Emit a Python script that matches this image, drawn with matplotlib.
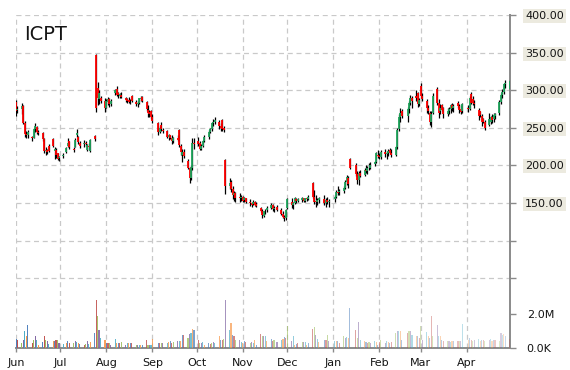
import matplotlib
matplotlib.use("Agg")
import matplotlib.pyplot as plt
import matplotlib.dates as mdates
import matplotlib.ticker as mticker
from matplotlib.colors import to_rgba
import numpy as np
import pandas as pd

# ---------------- data ----------------
title = "ICPT"
holidays = ["2017-07-04", "2017-09-04", "2017-11-23", "2017-12-25",
            "2018-01-01", "2018-01-15", "2018-02-19", "2018-03-30"]
dates = pd.bdate_range("2017-06-01", "2018-04-30")
dates = dates[~dates.isin(pd.to_datetime(holidays))]

opens = [284, 274, 275, 279, 257, 242, 240, 238, 237, 248, 251, 244, 243, 235, 219, 221, 226, 235, 219, 221, 216, 210,
         212, 218, 226, 232, 222, 224, 240, 238, 230, 228, 230, 221, 226, 219, 239, 347, 303, 288, 290, 285,
         277, 284, 288, 282, 296, 302, 296, 292, 294, 290, 288, 287, 285, 292, 284, 282, 283, 288, 291, 284, 274, 271, 272,
         264, 256, 245, 254, 247, 246, 238, 240, 237, 233, 236, 247, 226, 214, 218, 206, 197, 183, 196, 230,
         232, 230, 222, 226, 233, 238, 245, 248, 256, 258, 258, 252, 260, 250, 207, 172, 178, 168, 160, 163, 158, 156,
         158, 154, 156, 152, 150, 149, 152, 149, 144, 140, 133, 139, 141, 144, 147, 142, 145, 141, 136, 132, 130,
         143, 152, 148, 150, 155, 153, 154, 156, 153, 156, 155, 176, 158, 153, 151, 154, 155, 150, 154, 151,
         155, 158, 165, 164, 166, 170, 178, 183, 208, 200, 188, 180, 190, 187, 194, 192, 197, 197, 202, 204, 214,
         213, 211, 218, 215, 216, 221, 217, 214, 224, 248, 265, 272, 266, 275, 283, 290, 292, 296, 282,
         306, 292, 285, 276, 270, 258, 270, 302, 283, 272, 280, 276, 268, 273, 275, 280, 276, 283, 279, 275, 272,
         276, 275, 295, 288, 283, 274, 272, 266, 262, 258, 254, 258, 264, 262, 266, 270, 284, 294, 298, 308, 302]
highs = [287, 279, 283, 280, 259, 246, 247, 239, 250, 256, 252, 247, 244, 236, 225, 222, 228, 237, 225, 223, 217, 213,
         216, 224, 236, 233, 225, 236, 248, 239, 232, 234, 233, 228, 230, 235, 240, 348, 311, 300, 292, 289,
         288, 291, 290, 288, 301, 305, 298, 296, 297, 291, 290, 291, 288, 293, 287, 285, 290, 292, 292, 285, 280, 274, 274,
         268, 258, 252, 258, 250, 247, 242, 241, 240, 238, 240, 248, 229, 222, 222, 208, 198, 200, 236, 236,
         238, 233, 228, 234, 240, 247, 250, 258, 262, 264, 260, 256, 262, 252, 208, 183, 180, 172, 166, 165, 163, 160,
         159, 158, 157, 155, 152, 154, 153, 151, 145, 142, 140, 142, 146, 150, 149, 146, 148, 143, 139, 134, 142,
         157, 156, 152, 158, 157, 156, 158, 157, 157, 158, 160, 178, 167, 160, 156, 158, 160, 156, 158, 155,
         160, 167, 172, 168, 172, 180, 187, 186, 210, 203, 192, 192, 194, 196, 200, 199, 203, 204, 206, 218, 220,
         217, 220, 222, 219, 222, 223, 222, 226, 250, 268, 277, 275, 278, 285, 294, 292, 300, 298, 290,
         309, 296, 288, 280, 272, 272, 296, 304, 288, 282, 282, 278, 276, 278, 282, 283, 282, 285, 282, 280, 283,
         280, 292, 297, 292, 287, 276, 273, 268, 263, 260, 270, 266, 268, 270, 270, 287, 296, 302, 310, 314, 314]
lows = [266, 270, 268, 255, 238, 236, 237, 233, 236, 244, 242, 240, 233, 216, 214, 215, 218, 224, 209, 210, 207, 206,
        210, 217, 225, 222, 218, 224, 238, 229, 223, 225, 226, 219, 220, 218, 233, 271, 280, 282, 283, 271,
        276, 280, 278, 279, 293, 292, 290, 290, 289, 284, 283, 283, 282, 284, 279, 278, 282, 285, 284, 272, 265, 264, 262,
        256, 240, 243, 246, 243, 236, 234, 235, 229, 230, 232, 225, 214, 204, 210, 195, 176, 180, 194, 222,
        226, 220, 220, 225, 231, 235, 243, 246, 253, 255, 248, 246, 246, 244, 162, 168, 165, 155, 153, 152, 152, 153,
        152, 151, 150, 146, 145, 147, 146, 145, 138, 130, 131, 136, 138, 142, 140, 138, 139, 134, 130, 126, 128,
        142, 144, 142, 149, 150, 151, 152, 151, 152, 153, 154, 156, 149, 145, 148, 150, 147, 145, 149, 145,
        152, 156, 160, 161, 163, 168, 174, 170, 195, 186, 175, 174, 184, 186, 190, 189, 194, 195, 199, 203, 210,
        208, 209, 211, 209, 213, 215, 211, 212, 222, 246, 258, 263, 258, 270, 280, 276, 285, 278, 279,
        290, 285, 270, 268, 254, 251, 268, 280, 263, 268, 272, 263, 266, 268, 270, 272, 271, 276, 270, 269, 270,
        271, 274, 281, 280, 276, 260, 265, 253, 256, 247, 253, 255, 256, 258, 262, 267, 282, 290, 295, 303, 300]
closes = [273, 275, 279, 257, 242, 240, 244, 236, 248, 252, 244, 243, 235, 219, 221, 218, 219, 226, 222, 214, 209, 211,
          214, 223, 230, 224, 221, 234, 243, 231, 226, 230, 228, 227, 224, 234, 235, 276, 290, 296, 286, 276,
          286, 288, 281, 285, 300, 294, 293, 295, 291, 287, 285, 284, 286, 285, 282, 283, 289, 290, 285, 275, 270, 268, 264,
          259, 244, 250, 248, 246, 238, 240, 237, 232, 236, 234, 227, 218, 218, 213, 197, 183, 196, 230, 228,
          229, 222, 226, 233, 238, 244, 248, 256, 258, 260, 252, 250, 248, 247, 172, 176, 168, 160, 163, 156, 156, 158,
          153, 156, 152, 150, 148, 152, 148, 146, 140, 134, 139, 140, 143, 147, 142, 144, 141, 136, 132, 130, 141,
          155, 148, 150, 156, 153, 155, 156, 153, 156, 155, 158, 158, 152, 151, 154, 156, 150, 154, 151, 153,
          158, 165, 163, 166, 170, 178, 184, 175, 197, 188, 180, 190, 186, 194, 192, 197, 196, 201, 204, 216, 213,
          211, 218, 215, 216, 219, 217, 214, 224, 247, 265, 270, 266, 275, 283, 290, 285, 290, 282, 287,
          292, 288, 276, 272, 258, 268, 292, 283, 270, 276, 274, 268, 273, 275, 280, 276, 279, 279, 274, 271, 281,
          275, 290, 283, 283, 281, 266, 267, 258, 258, 250, 262, 264, 260, 267, 268, 284, 294, 298, 308, 310, 312]
volumes_m = [0.55, 0.49, 0.29, 0.49, 0.98, 0.69, 1.37, 0.30, 0.49, 0.69, 0.49, 0.20, 0.33, 0.69, 0.49, 0.43, 0.25, 0.43, 0.43, 0.49, 0.49, 0.30,
             0.25, 0.30, 0.43, 0.30, 0.30, 0.43, 0.35, 0.30, 0.25, 0.20, 0.25, 0.40, 0.25, 0.35, 0.88, 2.85, 1.86, 1.04, 0.59, 0.49,
             0.30, 0.30, 0.30, 0.20, 0.53, 0.30, 0.30, 0.30, 0.33, 0.15, 0.30, 0.30, 0.30, 0.30, 0.20, 0.20, 0.20, 0.20, 0.20, 0.49, 0.20, 0.20, 0.20,
             0.55, 0.30, 0.30, 0.30, 0.30, 0.30, 0.35, 0.40, 0.30, 0.35, 0.40, 0.40, 0.40, 0.78, 0.78, 0.60, 0.80, 0.90, 1.10, 1.08,
             0.49, 0.30, 0.30, 0.35, 0.20, 0.30, 0.25, 0.30, 0.35, 0.30, 0.73, 0.49, 0.50, 0.55, 2.84, 1.04, 1.47, 0.78, 0.69, 0.50, 0.45, 0.35,
             0.30, 0.40, 0.35, 0.30, 0.35, 0.30, 0.45, 0.20, 0.84, 0.73, 0.69, 0.69, 0.40, 0.53, 0.40, 0.45, 0.35, 0.49, 0.55, 0.65, 0.60,
             1.27, 0.43, 0.69, 0.20, 0.25, 0.30, 0.33, 0.33, 0.33, 0.20, 0.30, 1.12, 1.22, 0.78, 0.53, 0.33, 0.49, 0.49, 0.78, 0.40,
             0.39, 0.39, 0.39, 0.30, 0.69, 0.59, 0.65, 0.60, 2.35, 1.08, 0.59, 1.51, 0.49, 0.40, 0.35, 0.30, 0.35, 0.30, 0.40, 0.35, 0.20,
             0.35, 0.45, 0.30, 0.40, 0.35, 0.30, 0.35, 0.88, 1.02, 1.02, 1.00, 0.50, 0.88, 1.02, 1.00, 0.78, 0.73, 0.73, 0.60,
             1.31, 0.50, 0.92, 0.69, 0.60, 1.90, 0.69, 1.37, 0.69, 0.69, 0.45, 0.40, 0.40, 0.40, 0.35, 0.40, 0.40, 0.39, 0.39, 0.39, 1.43,
             0.45, 0.60, 0.50, 0.40, 0.45, 0.55, 0.40, 0.45, 0.50, 0.40, 0.45, 0.55, 0.40, 0.50, 0.45, 0.40, 0.88, 0.75, 0.82, 0.69, 0.53]

price_ticks = [50, 100, 150, 200, 250, 300, 350, 400]
volume_ticks = [0, 2]
volume_tick_labels = ["0.0K", "2.0M"]

n = len(dates)
assert all(len(a) == n for a in (opens, highs, lows, closes, volumes_m)), n

# ---------------- styles ----------------
UP = "#1fa55c"
DOWN = "#ff0000"
GRID = "#c9c9c9"
AXIS = "#8a8a8a"
TXT = "#141414"
office = ["#4F81BD", "#C0504D", "#9BBB59", "#8064A2", "#4BACC6", "#F79646"]

x = mdates.date2num(dates.to_pydatetime())
o = np.array(opens, float); h = np.array(highs, float)
l = np.array(lows, float); c = np.array(closes, float)

fig = plt.figure(figsize=(5.7, 3.7), dpi=100)
ax = fig.add_axes([16 / 570, 22 / 370, 494 / 570, 333 / 370])
axv = ax.twinx()

# candles
ax.vlines(x, l, h, colors="black", linewidth=0.9, zorder=3)
body_cols = [UP if cc > oo else (DOWN if cc < oo else "black") for oo, cc in zip(o, c)]
ax.vlines(x, o, c, colors=body_cols, linewidth=1.3, zorder=4)

# volume
alphas = np.linspace(1.0, 0.3, n)
vcols = [to_rgba(office[i % 6], alphas[i]) for i in range(n)]
axv.bar(x, volumes_m, width=0.75, color=vcols, linewidth=0, zorder=3)

# limits
start = mdates.date2num(pd.Timestamp("2017-06-01").to_pydatetime())
ax.set_xlim(start, start + 333.1)
ax.set_ylim(-42.8, 400)
axv.set_ylim(0, 19.59)

# grid
ax.set_axisbelow(True)
ax.grid(True, which="major", axis="both", color=GRID, linestyle=(0, (4, 3)), linewidth=0.9)

# spines
for s in ("left", "top"):
    ax.spines[s].set_visible(False)
for s in ("right", "bottom"):
    ax.spines[s].set_color(AXIS)
    ax.spines[s].set_linewidth(1.4)
for s in axv.spines.values():
    s.set_visible(False)

# x axis
ax.xaxis.set_major_locator(mdates.MonthLocator())
ax.xaxis.set_major_formatter(mdates.DateFormatter("%b"))
ax.tick_params(axis="x", length=3, width=1, color=AXIS, labelsize=8, labelcolor=TXT, pad=4)

# price axis (right)
ax.yaxis.tick_right()
ax.yaxis.set_major_locator(mticker.FixedLocator(price_ticks))
ax.yaxis.set_major_formatter(mticker.FuncFormatter(lambda v, p: f"{v:.2f}" if v >= 150 else ""))
ax.tick_params(axis="y", left=False, right=True, labelleft=False, labelright=True,
               length=4, width=1, color=AXIS, labelsize=8, labelcolor=TXT, pad=7)
for t in ax.yaxis.get_major_ticks():
    t.label2.set_bbox(dict(boxstyle="square,pad=0.18", fc="#ECEADF", ec="none"))

# volume axis (right)
axv.yaxis.set_major_locator(mticker.FixedLocator(volume_ticks))
axv.yaxis.set_major_formatter(mticker.FixedFormatter(volume_tick_labels))
axv.tick_params(axis="y", right=True, labelright=True, length=4, width=1, color=AXIS,
                labelsize=8, labelcolor=TXT, pad=8)

fig.text(24 / 570, 1 - 40 / 370, title, fontsize=14, ha="left", va="baseline", color=TXT)

fig.savefig("out.png", dpi=100)
